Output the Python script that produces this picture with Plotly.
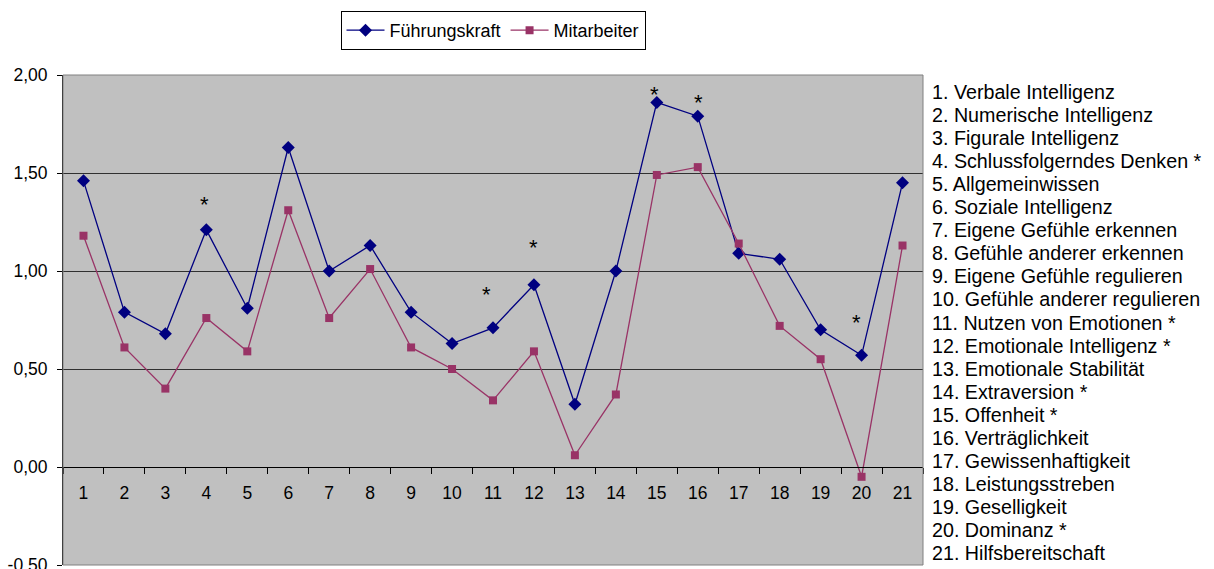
import plotly.graph_objects as go

# Skalen 1..21
categories = [str(i) for i in range(1, 22)]

fuehrungskraft = [1.46, 0.79, 0.68, 1.21, 0.81, 1.63, 1.00, 1.13, 0.79, 0.63,
                  0.71, 0.93, 0.32, 1.00, 1.86, 1.79, 1.09, 1.06, 0.70, 0.57, 1.45]
mitarbeiter = [1.18, 0.61, 0.40, 0.76, 0.59, 1.31, 0.76, 1.01, 0.61, 0.50,
               0.34, 0.59, 0.06, 0.37, 1.49, 1.53, 1.14, 0.72, 0.55, -0.05, 1.13]

scale_names = [
    "1. Verbale Intelligenz",
    "2. Numerische Intelligenz",
    "3. Figurale Intelligenz",
    "4. Schlussfolgerndes Denken *",
    "5. Allgemeinwissen",
    "6. Soziale Intelligenz",
    "7. Eigene Gefühle erkennen",
    "8. Gefühle anderer erkennen",
    "9. Eigene Gefühle regulieren",
    "10. Gefühle anderer regulieren",
    "11. Nutzen von Emotionen *",
    "12. Emotionale Intelligenz *",
    "13. Emotionale Stabilität",
    "14. Extraversion *",
    "15. Offenheit *",
    "16. Verträglichkeit",
    "17. Gewissenhaftigkeit",
    "18. Leistungsstreben",
    "19. Geselligkeit",
    "20. Dominanz *",
    "21. Hilfsbereitschaft",
]

# Signifikanz-Sternchen: (Kategorieposition, Höhe)
star_x = [2.95, 9.84, 11.0, 13.95, 15.03, 18.88]
star_y = [1.37, 0.91, 1.15, 1.93, 1.89, 0.77]

y_ticks = [-0.5, 0.0, 0.5, 1.0, 1.5, 2.0]
y_ticktext = ["-0,50", "0,00", "0,50", "1,00", "1,50", "2,00"]

FONT = "Liberation Sans, Arial, sans-serif"
W, H = 1214, 569
ML, MR, MT, MB = 63, 291, 75, 4
plot_h = H - MT - MB

fig = go.Figure()
fig.add_trace(go.Scatter(
    x=categories, y=fuehrungskraft, name="Führungskraft", mode="lines+markers",
    line=dict(color="#000080", width=1.3),
    marker=dict(symbol="diamond", size=10, color="#000080"),
))
fig.add_trace(go.Scatter(
    x=categories, y=mitarbeiter, name="Mitarbeiter", mode="lines+markers",
    line=dict(color="#993366", width=1.3),
    marker=dict(symbol="square", size=8, color="#993366"),
))

annotations = []
for sx, sy in zip(star_x, star_y):
    annotations.append(dict(
        x=sx, y=sy, xref="x", yref="y", text="*", showarrow=False,
        font=dict(family=FONT, size=22, color="black"), yshift=-6,
    ))

line_gap = 23.05
for i, name in enumerate(scale_names):
    ypix = 92 + i * line_gap
    annotations.append(dict(
        x=(930 - ML) / (W - ML - MR), y=(H - MB - ypix) / plot_h,
        xref="paper", yref="paper", text=name, showarrow=False,
        xanchor="left", yanchor="middle",
        font=dict(family=FONT, size=19.7, color="black"),
    ))

fig.update_layout(
    width=W, height=H,
    margin=dict(l=ML, r=MR, t=MT, b=MB, autoexpand=False),
    paper_bgcolor="white",
    plot_bgcolor="#C0C0C0",
    font=dict(family=FONT, size=17.5, color="black"),
    showlegend=True,
    legend=dict(
        orientation="h", x=0.5, xanchor="center",
        y=(H - MB - 11) / plot_h, yanchor="top",
        bgcolor="white", bordercolor="black", borderwidth=1,
        font=dict(family=FONT, size=18, color="black"),
        tracegroupgap=0, itemwidth=38,
    ),
    xaxis=dict(
        type="category", categoryorder="array", categoryarray=categories,
        range=[-0.5, 20.5], anchor="free", position=0.2,
        showline=True, linecolor="black", linewidth=1,
        ticks="outside", ticklen=6, tickcolor="black", tickson="boundaries",
        showgrid=False, zeroline=False, ticklabelstandoff=10,
        automargin=False,
    ),
    yaxis=dict(
        range=[-0.5, 2.0], tickvals=y_ticks, ticktext=y_ticktext,
        showline=True, linecolor="black", linewidth=1,
        ticks="outside", ticklen=5, tickcolor="black",
        showgrid=True, gridcolor="#303030", gridwidth=1, zeroline=False,
        ticklabelstandoff=6, ticklabeloverflow="allow", automargin=False,
    ),
    shapes=[dict(
        type="rect", xref="paper", yref="paper", x0=0, x1=1, y0=0, y1=1,
        line=dict(color="#808080", width=1), layer="above",
    )],
    annotations=annotations,
)

fig.write_html("out.html")
